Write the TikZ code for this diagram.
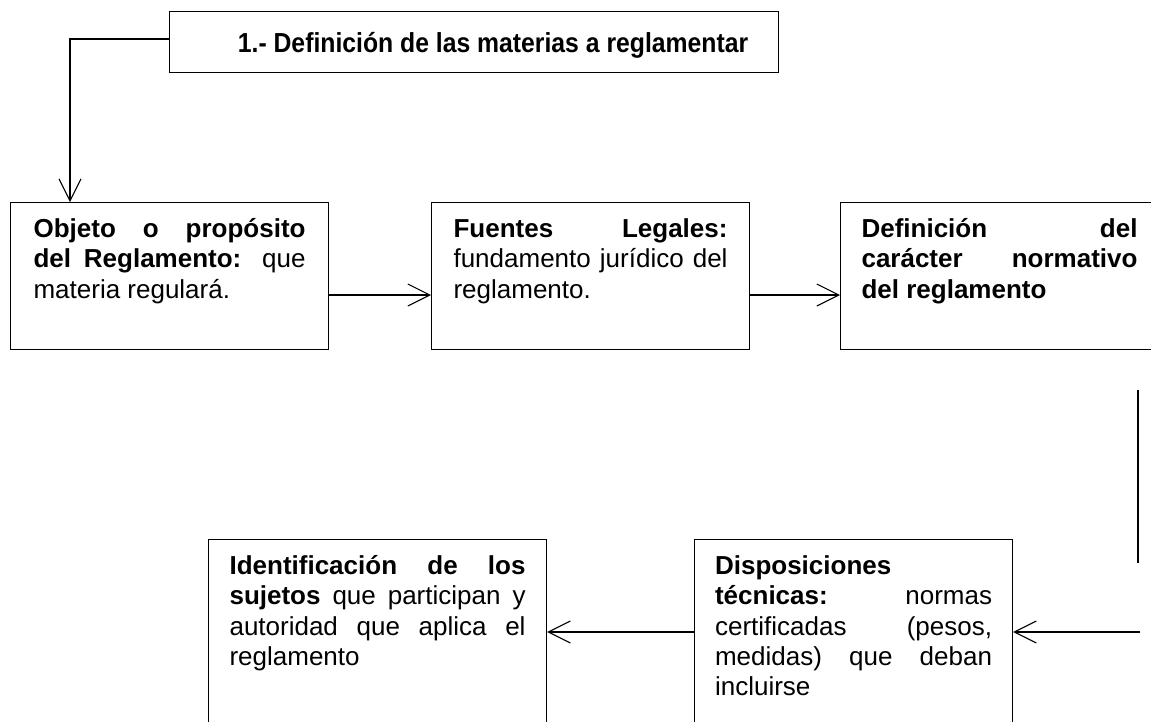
\documentclass[tikz,border=0pt]{standalone}
\usepackage{fontspec}
\setmainfont{Liberation Sans}
\newfontfamily\titlefont{Liberation Sans}[FakeStretch=0.9]
\usetikzlibrary{arrows.meta}
\hyphenpenalty=10000
\exhyphenpenalty=10000
\tolerance=10000
\hbadness=10000
\tikzset{
  x=1pt, y=-1pt,
  line/.style={line width=1.1pt, black},
  arr/.style={line, -{Straight Barb[length=22pt,width=22pt,line width=1.1pt]}},
  box/.style={draw, line width=1.1pt, anchor=north west, inner ysep=0pt, align=justify,
    font=\fontsize{26}{30.3}\selectfont, text height=35pt},
  titlebox/.style={draw, line width=1.1pt, anchor=north west, inner sep=0pt,
    minimum width=609pt, minimum height=61pt, text height=21pt, text depth=0pt,
    font=\fontsize{27.5}{32}\titlefont\bfseries},
}
\begin{document}
\begin{tikzpicture}
\useasboundingbox (0,0) rectangle (1151,721);
\clip (0,0) rectangle (1151,721);
\node[titlebox] (title) at (169,11) {\hspace*{38pt}1.- Definición de las materias a reglamentar};
\node[box, text width=272pt, inner xsep=23pt, text depth=112pt] (b1) at (10,202)
  {\textbf{Objeto o propósito\linebreak del Reglamento:} que\linebreak materia regulará.};
\node[box, text width=274pt, inner xsep=22pt, text depth=112pt] (b2) at (431,202)
  {\textbf{Fuentes Legales:}\linebreak fundamento jurídico del\linebreak reglamento.};
\node[box, text width=276pt, inner xsep=21pt, text depth=112pt] (b3) at (840,202)
  {\textbf{Definición del\linebreak carácter normativo\linebreak del reglamento}};
\node[box, text width=296pt, inner xsep=21pt, text depth=200pt] (b4) at (208,539)
  {\textbf{Identificación de los\linebreak sujetos} que participan y\linebreak autoridad que aplica el\linebreak reglamento};
\node[box, text width=277pt, inner xsep=20.5pt, text depth=200pt] (b5) at (694,539)
  {\textbf{Disposiciones\hfill\break técnicas:} normas\linebreak certificadas (pesos,\linebreak medidas) que deban\linebreak incluirse};
\coordinate (c1) at (70,39);
\draw[arr] (title.west |- c1) -- (c1) -- (c1 |- b1.north);
\draw[arr] (b1.east |- 0,295) -- (b2.west |- 0,295);
\draw[arr] (b2.east |- 0,295) -- (b3.west |- 0,295);
\coordinate (v1) at (1138,390);
\coordinate (v2) at (1138,563);
\draw[line] (v1) -- (v2);
\coordinate (h1) at (1140,632);
\draw[arr] (h1) -- (b5.east |- h1);
\draw[arr] (b5.west |- h1) -- (b4.east |- h1);
\end{tikzpicture}
\end{document}
